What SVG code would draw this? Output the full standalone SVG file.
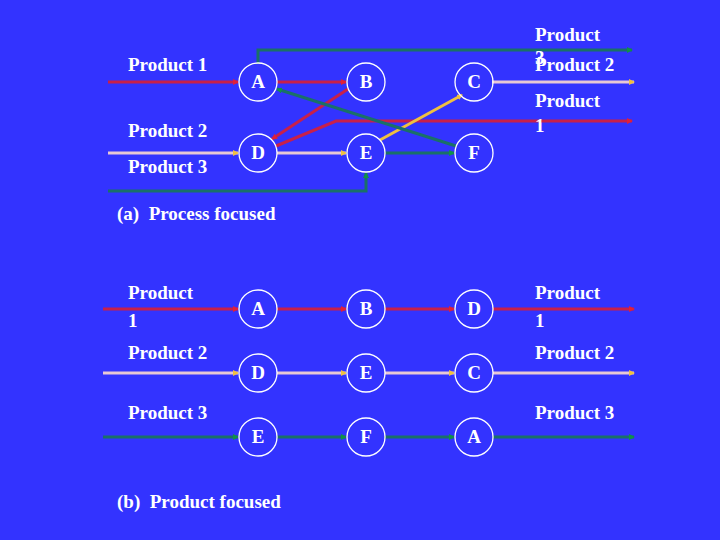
<svg xmlns="http://www.w3.org/2000/svg" width="720" height="540" viewBox="0 0 720 540">
<defs>
<marker id="mr" markerWidth="6" markerHeight="6" refX="5" refY="3" orient="auto" markerUnits="userSpaceOnUse"><path d="M0,0L6,3L0,6Z" fill="#e0203a"/></marker>
<marker id="mw" markerWidth="6" markerHeight="6" refX="5" refY="3" orient="auto" markerUnits="userSpaceOnUse"><path d="M0,0L6,3L0,6Z" fill="#f0c040"/></marker>
<marker id="mg" markerWidth="6" markerHeight="6" refX="5" refY="3" orient="auto" markerUnits="userSpaceOnUse"><path d="M0,0L6,3L0,6Z" fill="#10904a"/></marker>
<marker id="my" markerWidth="6" markerHeight="6" refX="5" refY="3" orient="auto" markerUnits="userSpaceOnUse"><path d="M0,0L6,3L0,6Z" fill="#f0c040"/></marker>
</defs>
<style>
text{font-family:"Liberation Serif",serif;font-weight:bold;font-size:19px;fill:#fff;white-space:pre}
.n circle{fill:none;stroke:#fff;stroke-width:1.3}
.n text{text-anchor:middle}
.r{stroke:#c8204a;stroke-width:3;fill:none;marker-end:url(#mr)}
.w{stroke:#e8c8d4;stroke-width:3;fill:none;marker-end:url(#mw)}
.g{stroke:#1a7068;stroke-width:3;fill:none;marker-end:url(#mg)}
.y{stroke:#f0c040;stroke-width:3;fill:none;marker-end:url(#my)}
</style>
<rect width="720" height="540" fill="#3333ff"/>
<g id="connectors">
<path class="r" d="M108,82H238"/>
<path class="r" d="M277,82H346"/>
<path class="r" d="M348,89L272,139"/>
<path class="r" d="M276,146L336,121H632"/>
<path class="w" d="M108,153H238"/>
<path class="w" d="M277,153H346"/>
<path class="w" d="M492,82H634"/>
<path class="y" d="M380,140L462,95"/>
<path class="g" d="M108,191H366V173"/>
<path class="g" d="M385,153H454"/>
<path class="g" d="M456,146L277,89"/>
<path class="g" d="M258,64V50H632"/>
<path class="r" d="M103,309H238"/><path class="r" d="M277,309H346"/><path class="r" d="M385,309H454"/><path class="r" d="M493,309H634"/>
<path class="w" d="M103,373H238"/><path class="w" d="M277,373H346"/><path class="w" d="M385,373H454"/><path class="w" d="M493,373H634"/>
<path class="g" d="M103,437H238"/><path class="g" d="M277,437H346"/><path class="g" d="M385,437H454"/><path class="g" d="M493,437H634"/>
</g>
<g id="nA" class="n"><circle cx="258" cy="82" r="19"/><text x="258" y="88">A</text></g>
<g id="nB" class="n"><circle cx="366" cy="82" r="19"/><text x="366" y="88">B</text></g>
<g id="nC" class="n"><circle cx="474" cy="82" r="19"/><text x="474" y="88">C</text></g>
<g id="nD" class="n"><circle cx="258" cy="153" r="19"/><text x="258" y="159">D</text></g>
<g id="nE" class="n"><circle cx="366" cy="153" r="19"/><text x="366" y="159">E</text></g>
<g id="nF" class="n"><circle cx="474" cy="153" r="19"/><text x="474" y="159">F</text></g>
<g id="b1A" class="n"><circle cx="258" cy="309" r="19"/><text x="258" y="315">A</text></g>
<g id="b1B" class="n"><circle cx="366" cy="309" r="19"/><text x="366" y="315">B</text></g>
<g id="b1D" class="n"><circle cx="474" cy="309" r="19"/><text x="474" y="315">D</text></g>
<g id="b2D" class="n"><circle cx="258" cy="373" r="19"/><text x="258" y="379">D</text></g>
<g id="b2E" class="n"><circle cx="366" cy="373" r="19"/><text x="366" y="379">E</text></g>
<g id="b2C" class="n"><circle cx="474" cy="373" r="19"/><text x="474" y="379">C</text></g>
<g id="b3E" class="n"><circle cx="258" cy="437" r="19"/><text x="258" y="443">E</text></g>
<g id="b3F" class="n"><circle cx="366" cy="437" r="19"/><text x="366" y="443">F</text></g>
<g id="b3A" class="n"><circle cx="474" cy="437" r="19"/><text x="474" y="443">A</text></g>
<g id="labels">
<text x="128" y="71">Product 1</text>
<text x="128" y="137">Product 2</text>
<text x="128" y="173">Product 3</text>
<text x="535" y="41">Product</text>
<text x="535" y="64">3</text>
<text x="535" y="71">Product 2</text>
<text x="535" y="107">Product</text>
<text x="535" y="132">1</text>
<text x="117" y="220">(a)  Process focused</text>
<text x="128" y="299">Product</text>
<text x="128" y="327">1</text>
<text x="128" y="359">Product 2</text>
<text x="128" y="419">Product 3</text>
<text x="535" y="299">Product</text>
<text x="535" y="327">1</text>
<text x="535" y="359">Product 2</text>
<text x="535" y="419">Product 3</text>
<text x="117" y="508">(b)  Product focused</text>
</g>
</svg>
